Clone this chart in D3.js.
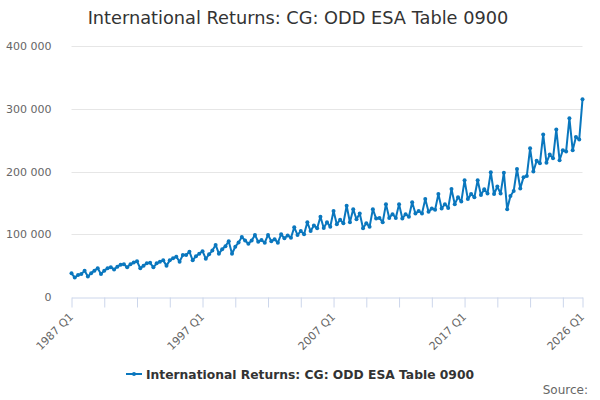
<!DOCTYPE html>
<html>
<head>
<meta charset="utf-8">
<script src="https://cdn.jsdelivr.net/npm/d3@7"></script>
<style>
  body { margin: 0; background: #fff; }
  #chart { width: 600px; height: 400px; }
  text { font-family: "DejaVu Sans", sans-serif; }
</style>
</head>
<body>
<div id="chart"></div>
<script>
// quarterly values, one array per year (Q1..Q4)
const firstYear = 1987;
const v1987 = [37800, 31000, 35000, 36500];
const v1988 = [42000, 32500, 38000, 42000];
const v1989 = [45700, 36600, 42000, 45700];
const v1990 = [47300, 44000, 48300, 51500];
const v1991 = [52000, 47300, 52000, 55000];
const v1992 = [57000, 45700, 50000, 53700];
const v1993 = [54500, 47300, 53700, 56300];
const v1994 = [58400, 50000, 58400, 61700];
const v1995 = [64300, 56300, 66900, 67000];
const v1996 = [72200, 58400, 65000, 69000];
const v1997 = [73000, 61000, 68000, 74000];
const v1998 = [83000, 69000, 76000, 81000];
const v1999 = [89000, 69000, 80000, 87000];
const v2000 = [95600, 90000, 85000, 90000];
const v2001 = [99000, 88000, 91000, 86600];
const v2002 = [99000, 89000, 92000, 86500];
const v2003 = [100000, 93500, 98000, 94500];
const v2004 = [111000, 99000, 105000, 100000];
const v2005 = [119000, 105000, 114000, 109500];
const v2006 = [128000, 110000, 119000, 112000];
const v2007 = [137000, 116000, 123000, 117500];
const v2008 = [145500, 119000, 140000, 124000];
const v2009 = [133000, 109500, 117500, 112000];
const v2010 = [140000, 125000, 126000, 119000];
const v2011 = [148000, 126000, 132000, 126000];
const v2012 = [148000, 125000, 132000, 128000];
const v2013 = [151000, 133000, 137000, 133000];
const v2014 = [156000, 136000, 141000, 139000];
const v2015 = [164000, 141000, 148000, 142000];
const v2016 = [172000, 148000, 159000, 152000];
const v2017 = [186000, 156000, 164000, 159000];
const v2018 = [186000, 162600, 171600, 165000];
const v2019 = [199000, 164000, 176000, 165000];
const v2020 = [198000, 140000, 161000, 169000];
const v2021 = [204000, 173000, 191000, 193000];
const v2022 = [237000, 200000, 217000, 213000];
const v2023 = [259000, 214000, 227000, 221000];
const v2024 = [267000, 218000, 234000, 232000];
const v2025 = [285000, 234000, 255000, 251000];
const v2026 = [315000];

const yearValues = [v1987, v1988, v1989, v1990, v1991, v1992, v1993, v1994, v1995, v1996,
  v1997, v1998, v1999, v2000, v2001, v2002, v2003, v2004, v2005, v2006,
  v2007, v2008, v2009, v2010, v2011, v2012, v2013, v2014, v2015, v2016,
  v2017, v2018, v2019, v2020, v2021, v2022, v2023, v2024, v2025, v2026];

const yTicks = [0, 100000, 200000, 300000, 400000];
const xLabels = ["1987 Q1", "1997 Q1", "2007 Q1", "2017 Q1", "2026 Q1"];
const seriesName = "International Returns: CG: ODD ESA Table 0900";
const titleText = "International Returns: CG: ODD ESA Table 0900";

// build category/value table
const data = [];
yearValues.forEach((vals, yi) => {
    vals.forEach((v, q) => {
        data.push({ cat: `${firstYear + yi} Q${q + 1}`, value: v });
    });
});
const categories = data.map(d => d.cat);

const width = 600, height = 400;
const margin = { top: 46, right: 17.5, bottom: 103, left: 71.5 };
const color = "#0a77be";

const svg = d3.select("#chart").append("svg")
    .attr("width", width)
    .attr("height", height);

const x = d3.scalePoint()
    .domain(categories)
    .range([margin.left, width - margin.right]);

const y = d3.scaleLinear()
    .domain([0, 400000])
    .range([height - margin.bottom, margin.top]);

// gridlines
svg.append("g")
    .selectAll("line")
    .data(yTicks.slice(1))
    .enter()
    .append("line")
    .attr("x1", margin.left)
    .attr("x2", width - margin.right)
    .attr("y1", d => Math.round(y(d)) + 0.5)
    .attr("y2", d => Math.round(y(d)) + 0.5)
    .attr("stroke", "#e6e6e6");

// y axis labels
const fmt = d => d3.format(",")(d).replace(/,/g, " ");
svg.append("g")
    .attr("transform", `translate(${margin.left - 17},0)`)
    .call(d3.axisLeft(y).tickValues(yTicks).tickFormat(fmt).tickSize(0))
    .call(g => g.select(".domain").remove())
    .call(g => g.selectAll("text")
        .attr("fill", "#666")
        .attr("font-size", "11px")
        .attr("dy", "0.32em"));

// x axis: ticks every 10 quarters plus the last
const tickCats = categories.filter((c, i) => i % 10 === 0 || i === categories.length - 1);
const xAxis = svg.append("g")
    .attr("transform", `translate(0,${Math.round(y(0)) + 0.5})`)
    .call(d3.axisBottom(x).tickValues(tickCats).tickSize(10).tickSizeOuter(0)
        .tickFormat(c => xLabels.includes(c) ? c : ""));
xAxis.select(".domain").attr("stroke", "#ccd6eb");
xAxis.selectAll(".tick line").attr("stroke", "#ccd6eb");
xAxis.selectAll(".tick text")
    .attr("fill", "#666")
    .attr("font-size", "11px")
    .attr("text-anchor", "end")
    .attr("x", 0)
    .attr("y", 0)
    .attr("dy", 0)
    .attr("transform", "translate(2,20) rotate(-45)");

// line
const line = d3.line()
    .x(d => x(d.cat))
    .y(d => y(d.value));

svg.append("path")
    .datum(data)
    .attr("fill", "none")
    .attr("stroke", color)
    .attr("stroke-width", 2)
    .attr("stroke-linejoin", "round")
    .attr("d", line);

svg.append("g")
    .selectAll("circle")
    .data(data)
    .enter()
    .append("circle")
    .attr("cx", d => x(d.cat))
    .attr("cy", d => y(d.value))
    .attr("r", 2)
    .attr("fill", color);

// title
svg.append("text")
    .attr("x", 298)
    .attr("y", 24)
    .attr("text-anchor", "middle")
    .attr("font-size", "17.75px")
    .attr("fill", "#333")
    .text(titleText);

// legend
const legend = svg.append("g").attr("transform", "translate(126,374)");
legend.append("line")
    .attr("x1", 0).attr("x2", 16)
    .attr("y1", 0).attr("y2", 0)
    .attr("stroke", color)
    .attr("stroke-width", 2);
legend.append("circle")
    .attr("cx", 8).attr("cy", 0).attr("r", 2)
    .attr("fill", color);
legend.append("text")
    .attr("x", 20)
    .attr("y", 4.5)
    .attr("font-size", "12.3px")
    .attr("font-weight", "bold")
    .attr("fill", "#333")
    .text(seriesName);

// credits
svg.append("text")
    .attr("x", 588)
    .attr("y", 394)
    .attr("text-anchor", "end")
    .attr("font-size", "12px")
    .attr("fill", "#666")
    .text("Source:");
</script>
</body>
</html>
